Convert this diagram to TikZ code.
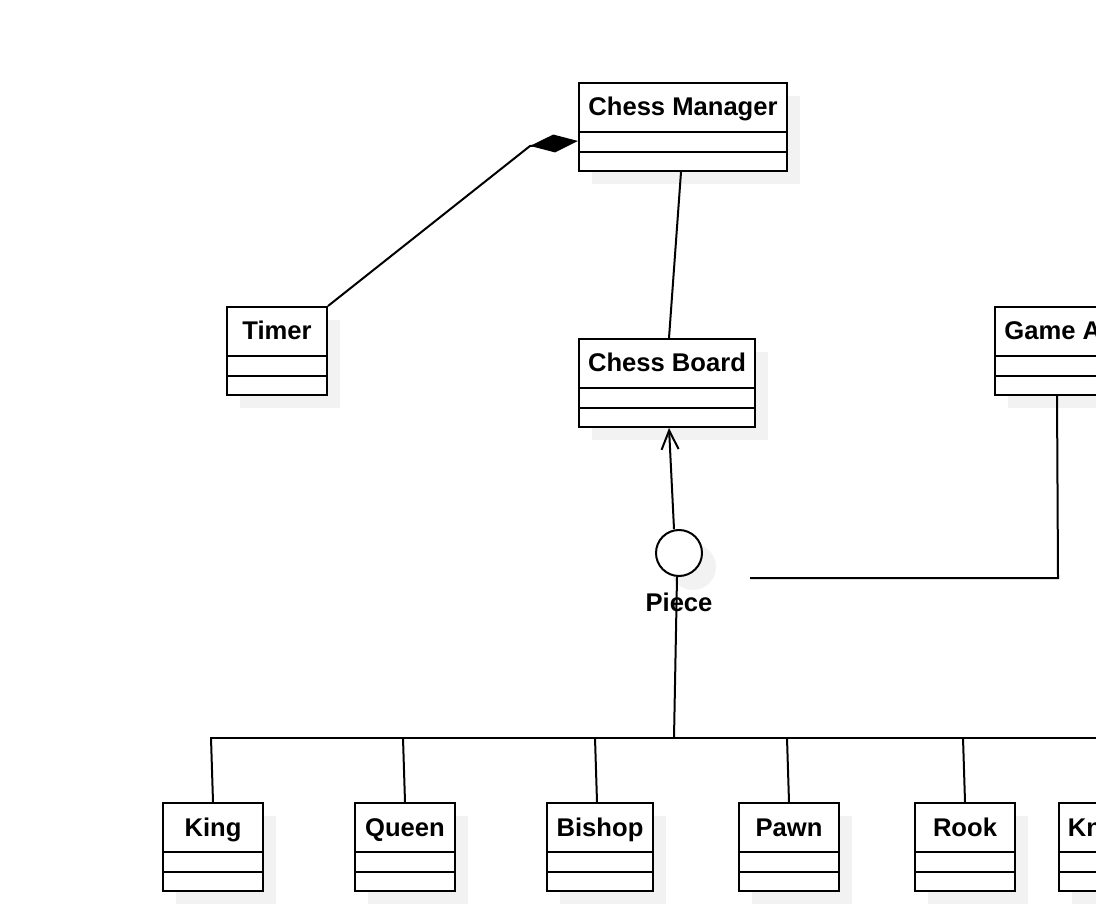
\documentclass[tikz,border=0pt]{standalone}
\usepackage{fontspec}
\setmainfont{Liberation Sans}
\usetikzlibrary{arrows.meta,calc}
\tikzset{
  umlclass/.style={draw, line width=1pt, fill=white, anchor=north west, minimum height=44pt, inner sep=0pt},
  classname/.style={font=\fontsize{12.8}{15}\selectfont\bfseries, inner sep=0pt, anchor=base},
  iface/.style={draw, circle, line width=1pt, fill=white, minimum size=23pt, inner sep=0pt},
  shadowfill/.style={fill=gray!10},
  link/.style={line width=1pt},
}
\newcommand\classbox[5]{%
  \fill[shadowfill] (#2+14,#3+14) rectangle ++(#4,88);
  \node[umlclass, minimum width=#4*0.5pt] (#1) at (#2,#3) {};
  \node[classname] (#1-name) at ($(#1.north)+(0,34)$) {#5};
  \draw[link] ($(#1.north west)+(0,50)$) -- ($(#1.north east)+(0,50)$);
  \draw[link] ($(#1.north west)+(0,70)$) -- ($(#1.north east)+(0,70)$);
}
\begin{document}
\begin{tikzpicture}[x=0.5pt, y=-0.5pt]
  \useasboundingbox (0,0) rectangle (1096,908);
  \clip (0,0) rectangle (1096,908);
  % classes
  \classbox{manager}{578}{82}{208}{Chess Manager}
  \classbox{timer}{226}{306}{100}{Timer}
  \classbox{board}{578}{338}{176}{Chess Board}
  \classbox{gameai}{994}{306}{124}{}
  \node[classname, anchor=base west] (gameai-label) at ($(gameai.north west)+(10,34)$) {Game A};
  \classbox{king}{162}{802}{100}{King}
  \classbox{queen}{354}{802}{100}{Queen}
  \classbox{bishop}{546}{802}{106}{Bishop}
  \classbox{pawn}{738}{802}{100}{Pawn}
  \classbox{rook}{914}{802}{100}{Rook}
  \classbox{knight}{1058}{802}{100}{}
  \node[classname, anchor=base west] (knight-label) at ($(knight.north west)+(9.5,34)$) {Kn};
  % interface
  \fill[shadowfill] (693,567) circle[radius=11.5pt];
  \node[iface] (piece) at (679,553) {};
  \node[classname] (piece-name) at ($(piece.south)+(0,34)$) {Piece};
  % connectors
  \coordinate (bend) at (530,146);
  \draw[link, -{Diamond[length=24pt, width=9pt]}] (timer.north east) -- (bend) -- ([yshift=-7pt]manager.west);
  \draw[link] ([xshift=-1pt]manager.south) -- ([xshift=1pt]board.north);
  \draw[link, -{Straight Barb[length=9.5pt, width=8.5pt]}] ([xshift=-2.5pt]piece.north) -- ([xshift=1pt]board.south);
  \coordinate (fork) at (674,738);
  \coordinate (bar-left) at (210,738);
  \coordinate (bar-right) at (1120,738);
  \draw[link] ([xshift=-1pt]piece.south) -- (fork);
  \draw[link] (bar-left) -- (bar-right);
  \foreach \sub/\dx in {king/0, queen/0, bishop/-3, pawn/0, rook/0, knight/0}{
    \coordinate (\sub-top) at ($(\sub.north)+(\dx,0)$);
    \coordinate (\sub-drop) at ($(\sub.north)+(\dx-2,0)$);
    \draw[link] (\sub-drop |- fork) -- (\sub-top);
  }
  \coordinate (gameai-turn) at (1058,578);
  \coordinate (gameai-end) at (750,578);
  \draw[link] (gameai.south) -- (gameai-turn) -- (gameai-end);
\end{tikzpicture}
\end{document}
